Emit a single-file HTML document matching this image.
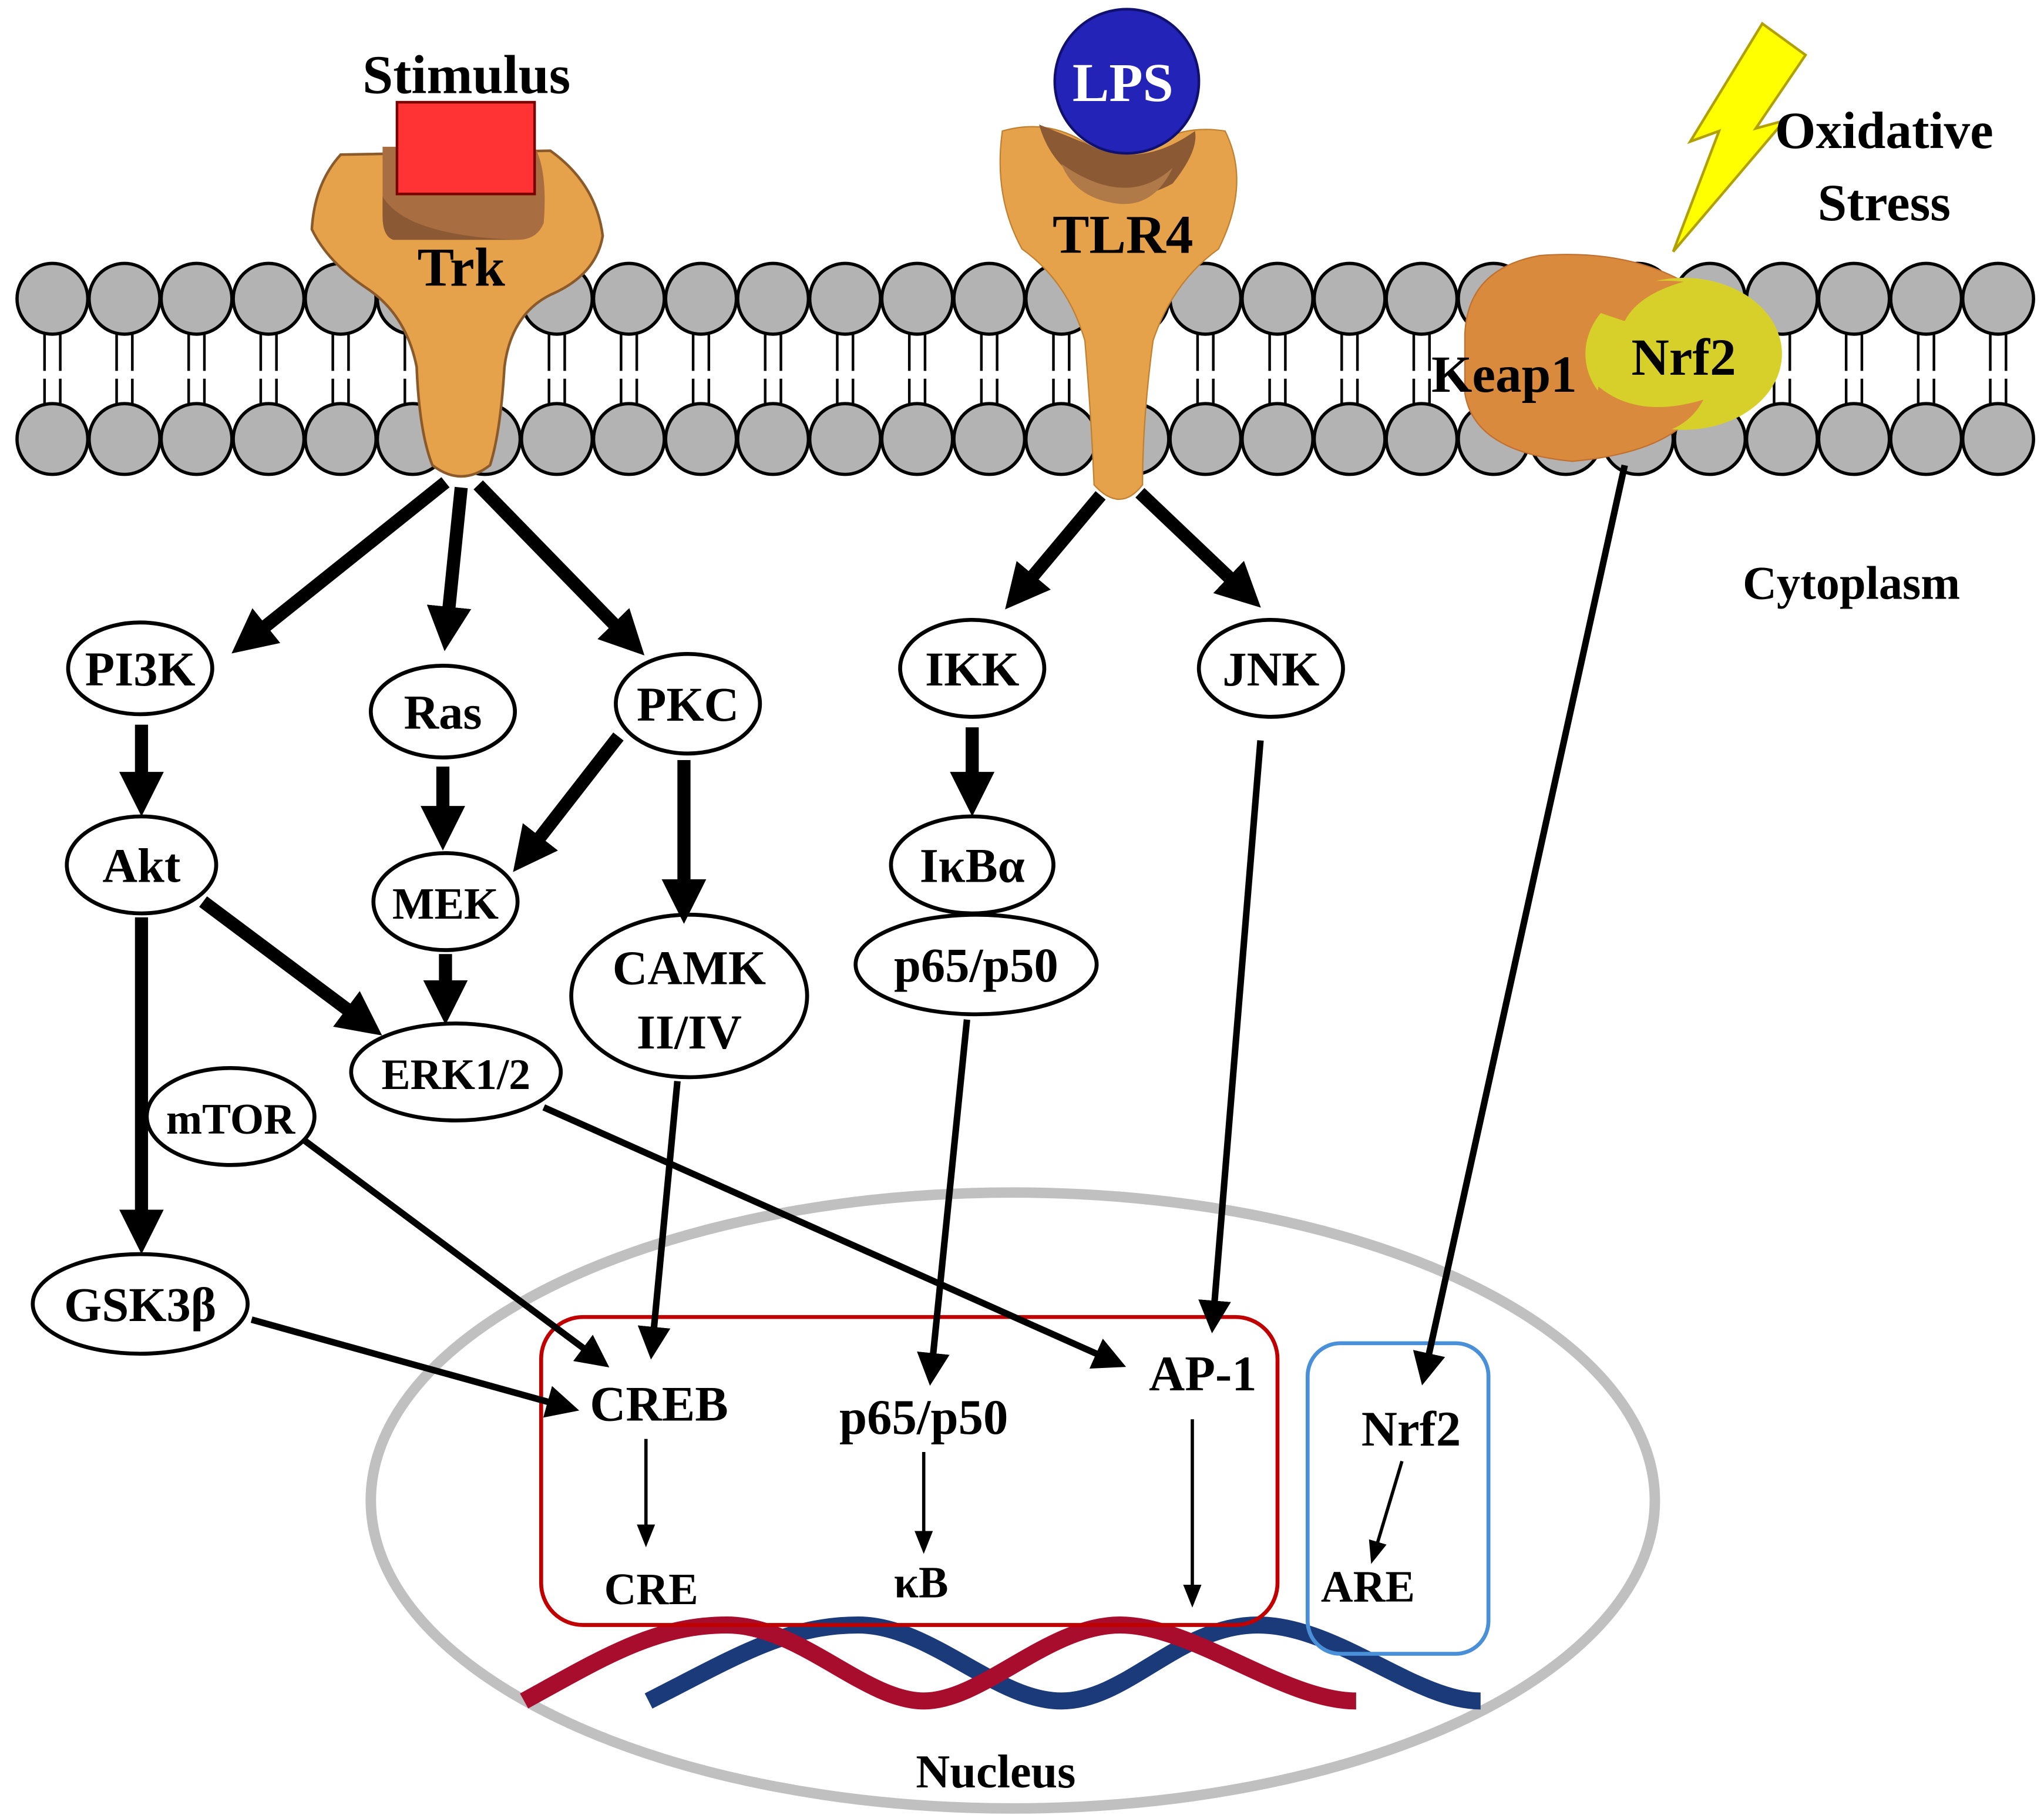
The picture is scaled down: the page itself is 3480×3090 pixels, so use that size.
<!DOCTYPE html>
<html><head><meta charset="utf-8"><style>
html,body{margin:0;padding:0;background:#fff;}
svg{display:block;}
text{font-family:"Liberation Serif",serif;font-weight:bold;fill:#000;text-anchor:middle;}
</style></head><body>
<svg width="3480" height="3090" viewBox="0 0 1560 1385" preserveAspectRatio="none" xmlns="http://www.w3.org/2000/svg">
<defs>
<marker id="ah" viewBox="0 0 10 10" refX="5" refY="5" markerWidth="3.4" markerHeight="3.4" orient="auto-start-reverse"><path d="M0,0 L10,5 L0,10 z" fill="#000"/></marker>
<marker id="ah2" viewBox="0 0 10 10" refX="5" refY="5" markerWidth="5" markerHeight="5" orient="auto"><path d="M0,0 L10,5 L0,10 z" fill="#000"/></marker>
<marker id="ah3" viewBox="0 0 10 10" refX="5" refY="5" markerWidth="7" markerHeight="7" orient="auto"><path d="M0,1 L10,5 L0,9 z" fill="#000"/></marker>
</defs>
<rect width="1560" height="1385" fill="#fff"/>
<g stroke="#000" stroke-width="2.5" fill="#b3b3b3">
<circle cx="40" cy="228" r="27"/><circle cx="95" cy="228" r="27"/><circle cx="150" cy="228" r="27"/><circle cx="205" cy="228" r="27"/><circle cx="260" cy="228" r="27"/><circle cx="315" cy="228" r="27"/><circle cx="370" cy="228" r="27"/><circle cx="425" cy="228" r="27"/><circle cx="480" cy="228" r="27"/><circle cx="535" cy="228" r="27"/><circle cx="590" cy="228" r="27"/><circle cx="645" cy="228" r="27"/><circle cx="700" cy="228" r="27"/><circle cx="755" cy="228" r="27"/><circle cx="810" cy="228" r="27"/><circle cx="865" cy="228" r="27"/><circle cx="920" cy="228" r="27"/><circle cx="975" cy="228" r="27"/><circle cx="1030" cy="228" r="27"/><circle cx="1085" cy="228" r="27"/><circle cx="1140" cy="228" r="27"/><circle cx="1195" cy="228" r="27"/><circle cx="1250" cy="228" r="27"/><circle cx="1305" cy="228" r="27"/><circle cx="1360" cy="228" r="27"/><circle cx="1415" cy="228" r="27"/><circle cx="1470" cy="228" r="27"/><circle cx="1525" cy="228" r="27"/>
<circle cx="40" cy="335" r="27"/><circle cx="95" cy="335" r="27"/><circle cx="150" cy="335" r="27"/><circle cx="205" cy="335" r="27"/><circle cx="260" cy="335" r="27"/><circle cx="315" cy="335" r="27"/><circle cx="370" cy="335" r="27"/><circle cx="425" cy="335" r="27"/><circle cx="480" cy="335" r="27"/><circle cx="535" cy="335" r="27"/><circle cx="590" cy="335" r="27"/><circle cx="645" cy="335" r="27"/><circle cx="700" cy="335" r="27"/><circle cx="755" cy="335" r="27"/><circle cx="810" cy="335" r="27"/><circle cx="865" cy="335" r="27"/><circle cx="920" cy="335" r="27"/><circle cx="975" cy="335" r="27"/><circle cx="1030" cy="335" r="27"/><circle cx="1085" cy="335" r="27"/><circle cx="1140" cy="335" r="27"/><circle cx="1195" cy="335" r="27"/><circle cx="1250" cy="335" r="27"/><circle cx="1305" cy="335" r="27"/><circle cx="1360" cy="335" r="27"/><circle cx="1415" cy="335" r="27"/><circle cx="1470" cy="335" r="27"/><circle cx="1525" cy="335" r="27"/>
</g>
<g stroke="#000" stroke-width="2" stroke-dasharray="28,6">
<path d="M34,255V308M46,255V308M89,255V308M101,255V308M144,255V308M156,255V308M199,255V308M211,255V308M254,255V308M266,255V308M309,255V308M321,255V308M364,255V308M376,255V308M419,255V308M431,255V308M474,255V308M486,255V308M529,255V308M541,255V308M584,255V308M596,255V308M639,255V308M651,255V308M694,255V308M706,255V308M749,255V308M761,255V308M804,255V308M816,255V308M859,255V308M871,255V308M914,255V308M926,255V308M969,255V308M981,255V308M1024,255V308M1036,255V308M1079,255V308M1091,255V308M1134,255V308M1146,255V308M1189,255V308M1201,255V308M1244,255V308M1256,255V308M1299,255V308M1311,255V308M1354,255V308M1366,255V308M1409,255V308M1421,255V308M1464,255V308M1476,255V308M1519,255V308M1531,255V308"/>
</g>
<!-- Trk -->
<path d="M260,118 Q240,140 238,175 Q250,200 280,220 Q310,240 318,280 Q320,330 330,355 Q352,372 374,355 Q382,330 385,280 Q390,240 420,225 Q455,210 460,180 Q455,140 420,115 Z" fill="#e6a24a" stroke="#8b5a2b" stroke-width="2"/>
<path d="M292,112 L408,112 Q418,130 415,170 Q410,183 395,183 L300,183 Q292,180 292,165 Z" fill="#a86d40"/>
<path d="M292,150 Q310,180 395,183 L300,183 Q292,180 292,165Z" fill="#8b5a35"/>
<rect x="303" y="78" width="105" height="70" fill="#ff3333" stroke="#7a0000" stroke-width="2"/>
<text x="356" y="71" font-size="42">Stimulus</text>
<text x="352" y="218" font-size="42">Trk</text>
<!-- TLR4 -->
<path d="M765,100 Q800,90 830,110 Q855,125 880,110 Q905,95 935,100 Q955,140 930,190 Q895,215 880,260 Q872,320 872,370 Q855,392 835,370 Q833,320 828,260 Q815,215 780,190 Q758,150 765,100Z" fill="#e6a24a" stroke="#c08030" stroke-width="1"/>
<path d="M793,95 Q800,120 820,135 Q860,160 895,140 Q915,115 912,100 Q870,130 830,110Z" fill="#8b5a35"/>
<path d="M810,125 Q860,160 895,128 Q880,160 850,155 Q820,150 810,125Z" fill="#b07a48"/>
<circle cx="860" cy="62" r="55" fill="#2323b8" stroke="#101070" stroke-width="2"/>
<text x="857" y="77" font-size="42" style="fill:#fff">LPS</text>
<text x="857" y="193" font-size="42">TLR4</text>
<!-- Keap1/Nrf2 -->
<path d="M1118,255 Q1120,205 1175,195 Q1240,190 1285,215 Q1240,225 1235,255 Q1240,300 1300,305 Q1280,345 1200,352 Q1125,345 1118,300Z" fill="#d98a3c" stroke="#c07030" stroke-width="1"/>
<ellipse cx="1285" cy="270" rx="75" ry="58" fill="#d8d02a"/>
<path d="M1220,295 Q1250,320 1300,305 Q1285,335 1235,335 Q1215,320 1220,295Z" fill="#d98a3c"/>
<path d="M1210,235 Q1240,210 1285,215 Q1250,225 1240,245Z" fill="#d98a3c"/>
<text x="1148" y="299" font-size="40">Keap1</text>
<text x="1285" y="286" font-size="40">Nrf2</text>
<!-- lightning -->
<polygon points="1345,18 1378,42 1340,98 1362,92 1277,192 1312,100 1290,108" fill="#ffff00" stroke="#b0a000" stroke-width="2"/>
<text x="1438" y="113" font-size="40">Oxidative</text>
<text x="1438" y="168" font-size="40">Stress</text>
<text x="1413" y="457" font-size="36">Cytoplasm</text>
<!-- nucleus -->
<ellipse cx="773" cy="1145" rx="490" ry="235" fill="none" stroke="#c0c0c0" stroke-width="8"/>
<g fill="none" stroke-width="13">
<path d="M495,1298 C560,1265 600,1240 655,1240 S760,1298 810,1298 S900,1240 960,1240 S1080,1298 1130,1298" stroke="#1a3a7a"/>
<path d="M400,1298 C460,1265 500,1240 555,1240 S660,1298 705,1298 S800,1240 855,1240 S980,1298 1035,1298" stroke="#a80d2e"/>
</g>
<rect x="413" y="1005" width="562" height="235" rx="32" fill="none" stroke="#c00000" stroke-width="3"/>
<rect x="998" y="1025" width="138" height="237" rx="25" fill="none" stroke="#4a90d9" stroke-width="3"/>
<g fill="#fff" stroke="#000" stroke-width="3">
<ellipse cx="107" cy="510" rx="55" ry="35"/>
<ellipse cx="338" cy="543" rx="55" ry="35"/>
<ellipse cx="525" cy="537" rx="55" ry="38"/>
<ellipse cx="742" cy="510" rx="55" ry="37"/>
<ellipse cx="970" cy="510" rx="55" ry="37"/>
<ellipse cx="108" cy="660" rx="57" ry="37"/>
<ellipse cx="340" cy="688" rx="55" ry="37"/>
<ellipse cx="742" cy="660" rx="62" ry="37"/>
<ellipse cx="745" cy="736" rx="92" ry="38"/>
<ellipse cx="526" cy="760" rx="90" ry="62"/>
<ellipse cx="348" cy="818" rx="80" ry="37"/>
<ellipse cx="176" cy="852" rx="64" ry="37"/>
<ellipse cx="107" cy="995" rx="82" ry="38"/>
</g>
<g font-size="37">
<text x="107" y="523">PI3K</text>
<text x="338" y="556">Ras</text>
<text x="525" y="550">PKC</text>
<text x="742" y="523">IKK</text>
<text x="970" y="523">JNK</text>
<text x="108" y="673">Akt</text>
<text x="340" y="701" font-size="34">MEK</text>
<text x="742" y="673">IκBα</text>
<text x="745" y="749">p65/p50</text>
<text x="526" y="751">CAMK</text>
<text x="526" y="800">II/IV</text>
<text x="348" y="831" font-size="33">ERK1/2</text>
<text x="176" y="865" font-size="33">mTOR</text>
<text x="107" y="1008">GSK3β</text>
<text x="503" y="1084" font-size="38">CREB</text>
<text x="705" y="1094" font-size="38">p65/p50</text>
<text x="918" y="1061" font-size="38">AP-1</text>
<text x="497" y="1224" font-size="34">CRE</text>
<text x="703" y="1219" font-size="34">κB</text>
<text x="1077" y="1103" font-size="38">Nrf2</text>
<text x="1044" y="1222" font-size="34">ARE</text>
<text x="760" y="1364" font-size="36">Nucleus</text>
</g>
<g stroke="#000" stroke-width="10" marker-end="url(#ah)" fill="none">
<line x1="340" y1="368" x2="190" y2="488"/>
<line x1="352" y1="372" x2="341" y2="480"/>
<line x1="365" y1="370" x2="480" y2="488"/>
<line x1="840" y1="378" x2="778" y2="452"/>
<line x1="870" y1="376" x2="950" y2="452"/>
<line x1="108" y1="553" x2="108" y2="606"/>
<line x1="338" y1="585" x2="338" y2="632"/>
<line x1="472" y1="562" x2="402" y2="652"/>
<line x1="522" y1="580" x2="522" y2="688"/>
<line x1="155" y1="688" x2="278" y2="780"/>
<line x1="340" y1="728" x2="340" y2="765"/>
<line x1="108" y1="700" x2="108" y2="940"/>
<line x1="742" y1="555" x2="742" y2="606"/>
</g>
<g stroke="#000" stroke-width="5" marker-end="url(#ah2)" fill="none">
<line x1="415" y1="845" x2="848" y2="1038"/>
<line x1="232" y1="870" x2="455" y2="1036"/>
<line x1="192" y1="1007" x2="430" y2="1073"/>
<line x1="517" y1="825" x2="498" y2="1025"/>
<line x1="738" y1="778" x2="711" y2="1045"/>
<line x1="962" y1="565" x2="926" y2="1005"/>
<line x1="1240" y1="355" x2="1088" y2="1045"/>
</g>
<g stroke="#000" stroke-width="2.5" marker-end="url(#ah3)" fill="none">
<line x1="493" y1="1098" x2="493" y2="1172"/>
<line x1="705" y1="1108" x2="705" y2="1177"/>
<line x1="910" y1="1083" x2="910" y2="1218"/>
<line x1="1070" y1="1115" x2="1049" y2="1185"/>
</g>
</svg>
</body></html>
